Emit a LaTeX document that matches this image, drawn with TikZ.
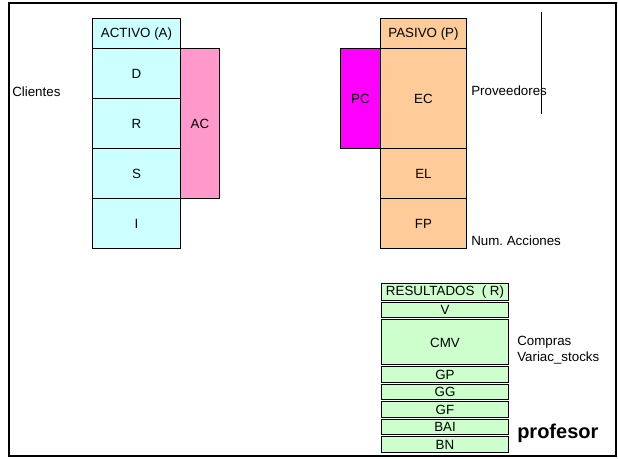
\documentclass[tikz,border=0pt]{standalone}
\usepackage{fontspec}
\setmainfont{Liberation Sans}
\usetikzlibrary{positioning}

\definecolor{activo}{HTML}{CCFFFF}
\definecolor{acorr}{HTML}{FF99CC}
\definecolor{pasivo}{HTML}{FFCC99}
\definecolor{pcorr}{HTML}{FF00FF}
\definecolor{result}{HTML}{CCFFCC}

\tikzset{
  cell/.style={draw, line width=0.75pt, inner sep=0pt, font=\fontsize{10}{12}\selectfont},
  act/.style={cell, fill=activo, minimum width=66pt},
  pas/.style={cell, fill=pasivo, minimum width=64.5pt},
  res/.style={cell, fill=result, minimum width=95.25pt, minimum height=11.6pt},
  lbl/.style={anchor=west, inner sep=0pt, font=\fontsize{10}{12}\selectfont},
}

\begin{document}
\begin{tikzpicture}[x=0.75pt,y=-0.75pt]
\useasboundingbox (0,0) rectangle (618,459);
\draw[line width=1.1pt] (9,3) rectangle (616,456);
\draw[line width=1.6pt] (9,456) -- (9,3) -- (616,3);
% activo
\node[act, minimum height=22.5pt] (act) at (136.5,34) {ACTIVO (A)};
\node[act, minimum height=37.5pt, below=-0.75pt of act] (actD) {D};
\node[act, minimum height=37.5pt, below=-0.75pt of actD] (actR) {R};
\node[act, minimum height=37.5pt, below=-0.75pt of actR] (actS) {S};
\node[act, minimum height=37.5pt, below=-0.75pt of actS] (actI) {I};
\node[cell, fill=acorr, minimum width=29.25pt, minimum height=112.5pt, anchor=north west, xshift=-0.75pt] (ac) at (actD.north east) {AC};
% pasivo
\node[pas, minimum height=22.5pt] (pas) at (423.5,34) {PASIVO (P)};
\node[pas, minimum height=75pt, below=-0.75pt of pas] (pasEC) {EC};
\node[pas, minimum height=37.5pt, below=-0.75pt of pasEC] (pasEL) {EL};
\node[pas, minimum height=37.5pt, below=-0.75pt of pasEL] (pasFP) {FP};
\node[cell, fill=pcorr, minimum width=30pt, minimum height=75pt, anchor=north east, xshift=0.75pt] (pc) at (pasEC.north west) {PC};
% resultados
\node[res, minimum height=12.75pt] (res) at (445,292) {RESULTADOS \ ( R)};
\node[res, below=0.75pt of res] (resV) {V};
\node[res, minimum height=33.75pt, below=0.75pt of resV] (resCMV) {CMV};
\foreach \n [remember=\n as \prev (initially CMV)] in {GP,GG,GF,BAI,BN}
  \node[res, below=0.75pt of res\prev] (res\n) {\n};
% textos
\node[lbl] (clientes) at (12,92) {Clientes};
\node[lbl] (proveedores) at (471,91) {Proveedores};
\node[lbl] (acciones) at (471,241) {Num.\ Acciones};
\node[lbl, align=left] (compras) at (517,350) {Compras\\Variac\_stocks};
\node[lbl, font=\bfseries\fontsize{15}{18}\selectfont] (profesor) at (517,433) {profesor};
\coordinate (vtop) at (541,12);
\coordinate (vbot) at (541,114);
\draw[line width=0.75pt] (vtop) -- (vbot);
\end{tikzpicture}
\end{document}
